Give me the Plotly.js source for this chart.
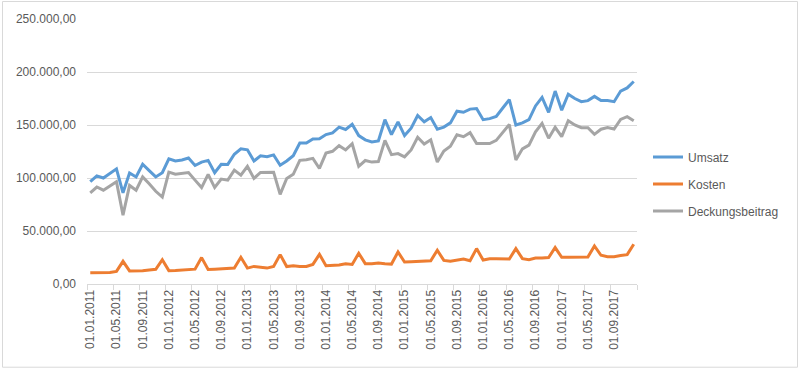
<!DOCTYPE html>
<html>
<head>
<meta charset="utf-8">
<script src="https://cdn.plot.ly/plotly-3.0.1.min.js"></script>
<style>
html,body{margin:0;padding:0;background:#fff;}
#chart{width:801px;height:369px;}
</style>
</head>
<body>
<div id="chart"></div>
<script>
// Monthly categories 01.01.2011 .. 01.12.2017
const years = [2011, 2012, 2013, 2014, 2015, 2016, 2017];
const months = ["01","02","03","04","05","06","07","08","09","10","11","12"];
const categories = [];
years.forEach(y => months.forEach(m => categories.push("01." + m + "." + y)));

const umsatz = [
  96500, 102000, 100000, 104000, 108600, 86000, 104800, 101000, 113000, 107000, 101000, 105000,
  118000, 116000, 117000, 118800, 111800, 115000, 116600, 105000, 113000, 112800, 122400, 127600,
  126600, 116000, 121000, 120000, 121800, 112000, 116000, 121000, 133000, 133000, 136900, 137000,
  141000, 142600, 148000, 145800, 150600, 140000, 136000, 134000, 135000, 155000, 141000, 153000,
  140000, 147000, 159000, 153000, 157000, 146000, 148000, 152000, 163000, 162000, 165000, 165500,
  155000, 156000, 158000, 166000, 174000, 150000, 152000, 155000, 168000, 176000, 162000, 182000,
  164000, 179000, 175000, 172000, 173000, 177000, 173000, 173000, 172000, 182000, 185000, 191000
];
const kosten = [
  10500, 10800, 11000, 10800, 11900, 21400, 12300, 12400, 12500, 13300, 13800, 22900,
  12600, 12800, 13200, 13600, 14000, 24900, 13600, 13900, 14200, 14500, 15000, 25200,
  15000, 16600, 16000, 15000, 16600, 27700, 16500, 17300, 16500, 16500, 18500, 28000,
  17300, 17300, 18000, 19000, 18500, 29000, 19200, 19200, 19800, 19200, 18800, 30200,
  20700, 21000, 21400, 21400, 22000, 31800, 22300, 21400, 22600, 23600, 22000, 33400,
  22600, 23900, 23900, 23900, 23600, 33400, 23900, 23000, 24500, 24500, 24900, 34400,
  25200, 25200, 25500, 25200, 25500, 35900, 27100, 25800, 25800, 26800, 27700, 37500
];
const deckungsbeitrag = [
  86000, 91500, 88500, 92700, 96500, 65000, 93000, 88500, 101000, 94500, 87500, 82000,
  105500, 103500, 104000, 105200, 98000, 91000, 103500, 91000, 99000, 98000, 107400, 102600,
  111000, 99600, 105200, 105500, 105500, 84500, 99500, 103500, 116700, 117200, 118500, 109000,
  123500, 125200, 130500, 126500, 132300, 111000, 116500, 115000, 115500, 135500, 122000, 123000,
  120000, 126500, 138500, 132000, 136000, 115000, 125500, 130000, 140700, 139000, 142800, 132500,
  132500, 132500, 135500, 142500, 150500, 117000, 127500, 131000, 143500, 151500, 137500, 147800,
  139000, 154000, 150000, 147500, 147500, 141200, 146000, 147500, 146200, 155200, 157800, 154000
];
const seriesNames = ["Umsatz", "Kosten", "Deckungsbeitrag"];
const seriesColors = ["#5B9BD5", "#ED7D31", "#A5A5A5"];
const seriesValues = [umsatz, kosten, deckungsbeitrag];

const traces = seriesValues.map((vals, k) => ({
  type: "scatter",
  mode: "lines",
  x: categories,
  y: vals,
  name: seriesNames[k],
  legendgroup: "g" + k,
  line: {color: seriesColors[k], width: 3},
  hoverinfo: "skip"
}));

const font = {family: "Liberation Sans, Arial, sans-serif", size: 12, color: "#595959"};

const layout = {
  width: 801,
  height: 369,
  separators: ",.",
  margin: {l: 87, r: 164, t: 19, b: 85, pad: 0},
  paper_bgcolor: "#ffffff",
  plot_bgcolor: "#ffffff",
  font: font,
  showlegend: true,
  legend: {
    x: 1.02, xanchor: "left",
    y: 0.377, yanchor: "middle",
    traceorder: "grouped",
    tracegroupgap: 8,
    font: font,
    itemwidth: 30,
    bgcolor: "rgba(0,0,0,0)"
  },
  xaxis: {
    type: "category",
    range: [-0.5, 83.5],
    tickmode: "linear",
    tick0: 0,
    dtick: 4,
    tickson: "boundaries",
    tickangle: -90,
    ticks: "outside",
    ticklen: 5,
    tickcolor: "#D9D9D9",
    showline: true,
    linecolor: "#D9D9D9",
    linewidth: 1,
    showgrid: false,
    zeroline: false,
    tickfont: font,
    fixedrange: true
  },
  yaxis: {
    range: [0, 250000],
    tickmode: "linear",
    tick0: 0,
    dtick: 50000,
    tickformat: ",.2f",
    showgrid: true,
    gridcolor: "#D9D9D9",
    gridwidth: 1,
    zeroline: false,
    showline: false,
    ticks: "",
    ticklabelstandoff: 10,
    tickfont: font,
    fixedrange: true
  },
  shapes: [{
    type: "rect", xref: "paper", yref: "paper",
    x0: -0.1536, x1: 1.2918, y0: -0.314, y1: 1.066,
    line: {color: "#D9D9D9", width: 1},
    fillcolor: "rgba(0,0,0,0)",
    layer: "below"
  }]
};

Plotly.newPlot("chart", traces, layout, {staticPlot: true, displayModeBar: false});
</script>
</body>
</html>
